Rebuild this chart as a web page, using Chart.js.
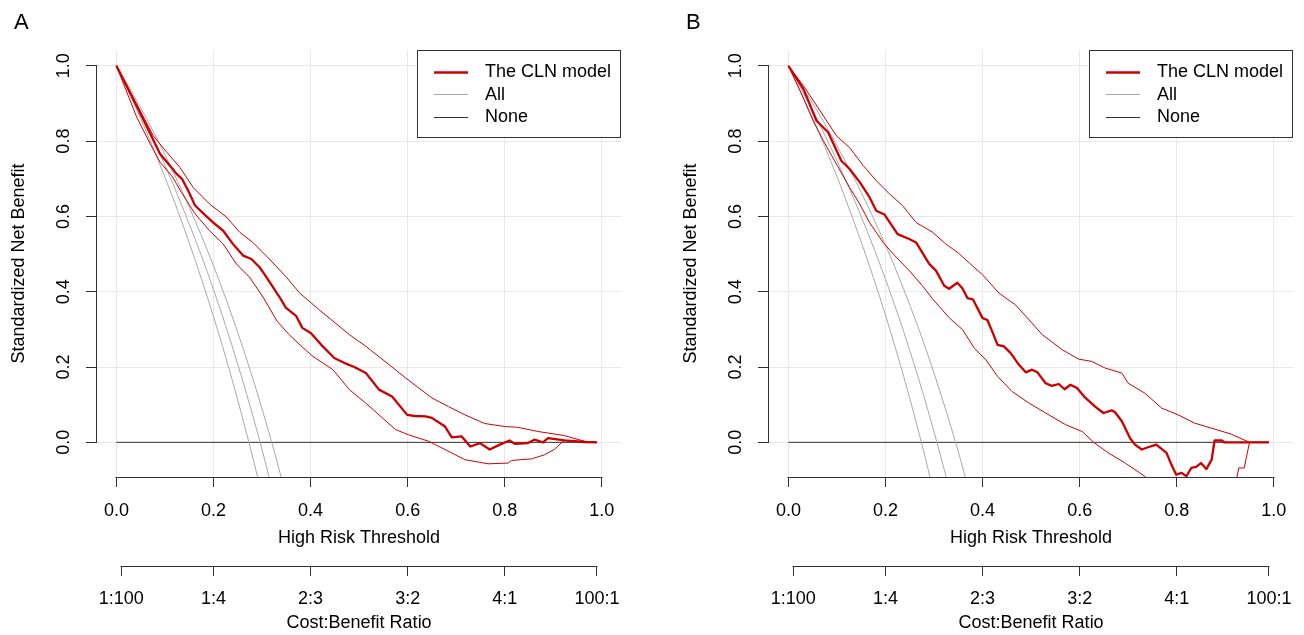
<!DOCTYPE html>
<html>
<head>
<meta charset="utf-8">
<script src="https://cdn.jsdelivr.net/npm/chart.js@4.4.1/dist/chart.umd.min.js"></script>
<style>
html,body{margin:0;padding:0;background:#fff;}
#wrap{position:relative;width:1304px;height:635px;overflow:hidden;background:#fff;}
.panel{position:absolute;top:0;width:632px;height:635px;}
.letter{position:absolute;font:22px "Liberation Sans",Arial,sans-serif;line-height:22px;color:#000;}
canvas{display:block;}
</style>
</head>
<body>
<div id="wrap">
  <div class="panel" style="left:0px"><canvas id="cA" width="632" height="635"></canvas></div>
  <div class="panel" style="left:672px"><canvas id="cB" width="632" height="635"></canvas></div>
  <div class="letter" style="left:14px;top:11px">A</div>
  <div class="letter" style="left:686px;top:11px">B</div>
</div>
<script>
// ---------------- DATA ----------------
const THRESH_TICKS = [0, 0.2, 0.4, 0.6, 0.8, 1.0];
const NB_TICKS = [0, 0.2, 0.4, 0.6, 0.8, 1.0];
const CB_POS = [0.0099, 0.2, 0.4, 0.6, 0.8, 0.9901];
const CB_LABELS = ['1:100', '1:4', '2:3', '3:2', '4:1', '100:1'];
const LEGEND_LABELS = ['The CLN model', 'All', 'None'];

// Panel A : [threshold, standardized net benefit]
const A_MODEL = [[0,1],[0.045,0.885],[0.09,0.766],[0.11,0.735],[0.124,0.713],[0.135,0.700],[0.148,0.668],[0.162,0.629],[0.18,0.607],[0.199,0.584],[0.22,0.562],[0.24,0.527],[0.261,0.496],[0.278,0.487],[0.295,0.465],[0.309,0.439],[0.336,0.386],[0.349,0.358],[0.37,0.336],[0.383,0.304],[0.401,0.29],[0.422,0.259],[0.449,0.224],[0.473,0.209],[0.49,0.2],[0.514,0.184],[0.541,0.14],[0.568,0.122],[0.599,0.073],[0.615,0.07],[0.637,0.069],[0.65,0.065],[0.677,0.042],[0.691,0.013],[0.711,0.016],[0.729,-0.011],[0.749,-0.002],[0.769,-0.019],[0.79,-0.006],[0.81,0.005],[0.821,-0.004],[0.848,-0.002],[0.861,0.007],[0.879,0],[0.889,0.011],[0.923,0.005],[0.964,0.001],[0.99,0]];
const A_HIGH = [[0,1],[0.049,0.881],[0.076,0.814],[0.104,0.77],[0.131,0.73],[0.158,0.677],[0.192,0.633],[0.227,0.598],[0.254,0.558],[0.281,0.531],[0.315,0.487],[0.35,0.439],[0.378,0.396],[0.418,0.352],[0.48,0.286],[0.514,0.255],[0.562,0.206],[0.596,0.171],[0.65,0.118],[0.684,0.095],[0.718,0.073],[0.759,0.05],[0.8,0.042],[0.827,0.04],[0.868,0.029],[0.923,0.018],[0.964,0.003],[0.99,0]];
const A_LOW = [[0,1],[0.042,0.863],[0.07,0.792],[0.09,0.744],[0.114,0.708],[0.134,0.664],[0.162,0.607],[0.192,0.562],[0.22,0.527],[0.247,0.474],[0.274,0.439],[0.302,0.386],[0.331,0.322],[0.355,0.287],[0.378,0.259],[0.405,0.228],[0.446,0.193],[0.48,0.14],[0.514,0.104],[0.541,0.073],[0.575,0.034],[0.602,0.02],[0.643,0.003],[0.677,-0.019],[0.718,-0.046],[0.766,-0.057],[0.807,-0.055],[0.814,-0.048],[0.855,-0.044],[0.882,-0.033],[0.902,-0.019],[0.916,-0.002],[0.923,0.005],[0.964,0.001],[0.99,0]];
const A_ALL_1 = [[0,1],[0.025,0.932],[0.05,0.860],[0.075,0.784],[0.1,0.704],[0.125,0.620],[0.15,0.530],[0.175,0.435],[0.2,0.334],[0.225,0.227],[0.25,0.112],[0.275,-0.010],[0.3,-0.141]];
const A_ALL_2 = [[0,1],[0.025,0.939],[0.05,0.875],[0.075,0.807],[0.1,0.736],[0.125,0.660],[0.15,0.580],[0.175,0.496],[0.2,0.406],[0.225,0.310],[0.25,0.207],[0.275,0.098],[0.3,-0.019],[0.325,-0.145]];
const A_ALL_3 = [[0,1],[0.025,0.946],[0.05,0.888],[0.075,0.828],[0.1,0.764],[0.125,0.696],[0.15,0.625],[0.175,0.549],[0.2,0.469],[0.225,0.383],[0.25,0.292],[0.275,0.194],[0.3,0.089],[0.325,-0.023],[0.35,-0.144]];

// Panel B
const B_MODEL = [[0,1],[0.031,0.938],[0.058,0.854],[0.082,0.823],[0.109,0.748],[0.126,0.726],[0.147,0.691],[0.167,0.651],[0.181,0.615],[0.198,0.605],[0.225,0.553],[0.249,0.54],[0.263,0.531],[0.29,0.474],[0.304,0.456],[0.321,0.416],[0.331,0.408],[0.348,0.424],[0.358,0.41],[0.369,0.383],[0.38,0.38],[0.4,0.33],[0.41,0.325],[0.42,0.294],[0.431,0.259],[0.444,0.255],[0.458,0.237],[0.475,0.206],[0.489,0.186],[0.502,0.193],[0.513,0.186],[0.53,0.157],[0.543,0.15],[0.557,0.155],[0.569,0.141],[0.581,0.153],[0.595,0.144],[0.612,0.118],[0.632,0.095],[0.649,0.078],[0.666,0.085],[0.673,0.08],[0.687,0.056],[0.704,0.011],[0.714,-0.006],[0.728,-0.019],[0.741,-0.013],[0.758,-0.006],[0.779,-0.028],[0.789,-0.059],[0.799,-0.086],[0.81,-0.081],[0.82,-0.09],[0.83,-0.068],[0.84,-0.065],[0.85,-0.055],[0.861,-0.071],[0.872,-0.046],[0.878,0.005],[0.893,0.005],[0.898,0],[0.99,0]];
const B_HIGH = [[0,1],[0.031,0.947],[0.065,0.881],[0.099,0.814],[0.126,0.783],[0.154,0.735],[0.181,0.695],[0.208,0.66],[0.235,0.629],[0.263,0.584],[0.297,0.558],[0.324,0.527],[0.35,0.503],[0.373,0.476],[0.4,0.445],[0.434,0.396],[0.468,0.365],[0.496,0.325],[0.523,0.286],[0.564,0.246],[0.598,0.221],[0.625,0.215],[0.653,0.197],[0.687,0.184],[0.7,0.157],[0.734,0.131],[0.769,0.091],[0.803,0.073],[0.837,0.051],[0.871,0.038],[0.912,0.022],[0.95,0],[0.99,0]];
const B_LOW = [[0,1],[0.027,0.925],[0.051,0.854],[0.072,0.801],[0.099,0.739],[0.126,0.677],[0.147,0.633],[0.167,0.584],[0.195,0.531],[0.222,0.492],[0.249,0.456],[0.276,0.416],[0.297,0.381],[0.332,0.33],[0.359,0.299],[0.383,0.25],[0.407,0.219],[0.431,0.175],[0.461,0.135],[0.496,0.104],[0.53,0.078],[0.571,0.047],[0.605,0.029],[0.629,0],[0.659,-0.028],[0.694,-0.055],[0.734,-0.09],[0.76,-0.12],[0.8,-0.15],[0.85,-0.16],[0.9,-0.14],[0.921,-0.11],[0.928,-0.068],[0.939,-0.068],[0.95,0],[0.99,0]];
const B_ALL_1 = [[0,1],[0.025,0.932],[0.05,0.861],[0.075,0.785],[0.1,0.706],[0.125,0.621],[0.15,0.532],[0.175,0.438],[0.2,0.338],[0.225,0.231],[0.25,0.117],[0.275,-0.005],[0.3,-0.136]];
const B_ALL_2 = [[0,1],[0.025,0.942],[0.05,0.881],[0.075,0.816],[0.1,0.748],[0.125,0.676],[0.15,0.600],[0.175,0.519],[0.2,0.433],[0.225,0.342],[0.25,0.244],[0.275,0.140],[0.3,0.028],[0.325,-0.092],[0.35,-0.221]];
const B_ALL_3 = [[0,1],[0.025,0.951],[0.05,0.900],[0.075,0.846],[0.1,0.788],[0.125,0.728],[0.15,0.664],[0.175,0.596],[0.2,0.524],[0.225,0.447],[0.25,0.365],[0.275,0.278],[0.3,0.184],[0.325,0.083],[0.35,-0.025],[0.375,-0.142]];

const NONE_LINE = [[0,0],[0.99,0]];

// ---------------- STYLE ----------------
const FONT = '"Liberation Sans", Arial, Helvetica, sans-serif';
const RED = '#CC0000';
const GRAY = '#A8A8A8';
const DARK = '#333333';
const GRID = '#E8E8E8';

const pts = arr => arr.map(p => ({x: p[0], y: p[1]}));

const axisLines = {
  id: 'axisLines',
  afterDatasetsDraw(chart) {
    const {ctx, chartArea} = chart;
    const x = chart.scales.x, y = chart.scales.y, cb = chart.scales.cb;
    ctx.save();
    ctx.strokeStyle = DARK;
    ctx.lineWidth = 1;
    ctx.beginPath();
    const lx = Math.round(chartArea.left) - 0.5;
    ctx.moveTo(lx, Math.round(y.getPixelForValue(NB_TICKS[0])) + 0.5);
    ctx.lineTo(lx, Math.round(y.getPixelForValue(NB_TICKS[NB_TICKS.length - 1])) - 0.5);
    const by = Math.round(chartArea.bottom) + 0.5;
    ctx.moveTo(Math.round(x.getPixelForValue(THRESH_TICKS[0])) - 0.5, by);
    ctx.lineTo(Math.round(x.getPixelForValue(THRESH_TICKS[THRESH_TICKS.length - 1])) + 0.5, by);
    const cy = Math.round(cb.top) + 0.5;
    ctx.moveTo(Math.round(cb.getPixelForValue(CB_POS[0])) - 0.5, cy);
    ctx.lineTo(Math.round(cb.getPixelForValue(CB_POS[CB_POS.length - 1])) + 0.5, cy);
    ctx.stroke();
    ctx.restore();
  }
};

const legendBox = {
  id: 'legendBox',
  afterDraw(chart) {
    const {ctx, chartArea} = chart;
    const w = 204, h = 87;
    const x0 = Math.round(chartArea.right - w), y0 = Math.round(chartArea.top);
    ctx.save();
    ctx.fillStyle = '#fff';
    ctx.fillRect(x0, y0, w, h);
    ctx.strokeStyle = DARK;
    ctx.lineWidth = 1;
    ctx.strokeRect(x0 + 0.5, y0 + 0.5, w - 1, h);
    const idx = chart.options.legendIndex;
    idx.forEach((di, i) => {
      const ds = chart.data.datasets[di];
      const yy = y0 + 22 + i * 22.3;
      ctx.strokeStyle = ds.borderColor;
      ctx.lineWidth = ds.borderWidth;
      ctx.beginPath();
      ctx.moveTo(x0 + 17, Math.round(yy) + 0.5);
      ctx.lineTo(x0 + 51, Math.round(yy) + 0.5);
      ctx.stroke();
      ctx.fillStyle = '#000';
      ctx.font = '18px ' + FONT;
      ctx.textBaseline = 'middle';
      ctx.textAlign = 'left';
      ctx.fillText(LEGEND_LABELS[i], x0 + 68, yy + 0.5);
    });
    ctx.restore();
  }
};

function makeChart(id, d) {
  const datasets = [
    {label: LEGEND_LABELS[0], data: pts(d.model), borderColor: RED, borderWidth: 2.3},
    {label: 'lower', data: pts(d.low), borderColor: RED, borderWidth: 1},
    {label: 'upper', data: pts(d.high), borderColor: RED, borderWidth: 1},
    {label: LEGEND_LABELS[1], data: pts(d.all[0]), borderColor: GRAY, borderWidth: 1, cubicInterpolationMode: 'monotone'},
    {label: 'all2', data: pts(d.all[1]), borderColor: GRAY, borderWidth: 1, cubicInterpolationMode: 'monotone'},
    {label: 'all3', data: pts(d.all[2]), borderColor: GRAY, borderWidth: 1, cubicInterpolationMode: 'monotone'},
    {label: LEGEND_LABELS[2], data: pts(NONE_LINE), borderColor: DARK, borderWidth: 1}
  ];
  const tickFont = {family: FONT, size: 18};
  return new Chart(document.getElementById(id), {
    type: 'line',
    data: {datasets},
    plugins: [axisLines, legendBox],
    options: {
      legendIndex: [0, 3, 6],
      responsive: false,
      animation: false,
      devicePixelRatio: 1,
      parsing: true,
      layout: {padding: {top: 50, right: 9, bottom: 0, left: 0}},
      plugins: {legend: {display: false}, tooltip: {enabled: false}, title: {display: false}},
      elements: {point: {radius: 0}, line: {tension: 0, fill: false, borderJoinStyle: 'round'}},
      scales: {
        x: {
          type: 'linear', position: 'bottom', min: -0.04, max: 1.04, weight: 0,
          afterBuildTicks: s => { s.ticks = THRESH_TICKS.map(v => ({value: v})); },
          afterFit: s => { s.height = 89; },
          border: {display: false},
          grid: {color: GRID, lineWidth: 1, tickColor: DARK, tickLength: 10, tickWidth: 1},
          ticks: {autoSkip: false, minRotation: 0, maxRotation: 0, padding: 13, color: '#000', font: tickFont,
                  callback: v => Number(v).toFixed(1)},
          title: {display: true, text: 'High Risk Threshold', color: '#000', font: tickFont, padding: {top: 0, bottom: 17}}
        },
        cb: {
          type: 'linear', axis: 'x', position: 'bottom', min: -0.04, max: 1.04, weight: 1,
          afterBuildTicks: s => { s.ticks = CB_POS.map(v => ({value: v})); },
          afterFit: s => { s.height = 69; },
          border: {display: false},
          grid: {drawOnChartArea: false, tickColor: DARK, tickLength: 10, tickWidth: 1},
          ticks: {autoSkip: false, minRotation: 0, maxRotation: 0, padding: 12, color: '#000', font: tickFont,
                  callback: (v, i) => CB_LABELS[i]},
          title: {display: true, text: 'Cost:Benefit Ratio', color: '#000', font: tickFont, padding: {top: 0, bottom: 1}}
        },
        y: {
          type: 'linear', position: 'left', min: -0.092, max: 1.042,
          afterBuildTicks: s => { s.ticks = NB_TICKS.map(v => ({value: v})); },
          afterFit: s => { s.width = 97; },
          border: {display: false},
          grid: {color: GRID, lineWidth: 1, tickColor: DARK, tickLength: 11, tickWidth: 1},
          ticks: {autoSkip: false, minRotation: 90, maxRotation: 90, crossAlign: 'center', padding: 9.5, color: '#000', font: tickFont,
                  callback: v => Number(v).toFixed(1)},
          title: {display: true, text: 'Standardized Net Benefit', color: '#000', font: tickFont, padding: {top: 8, bottom: 0}}
        }
      }
    }
  });
}

makeChart('cA', {model: A_MODEL, low: A_LOW, high: A_HIGH, all: [A_ALL_1, A_ALL_2, A_ALL_3]});
makeChart('cB', {model: B_MODEL, low: B_LOW, high: B_HIGH, all: [B_ALL_1, B_ALL_2, B_ALL_3]});
</script>
</body>
</html>
